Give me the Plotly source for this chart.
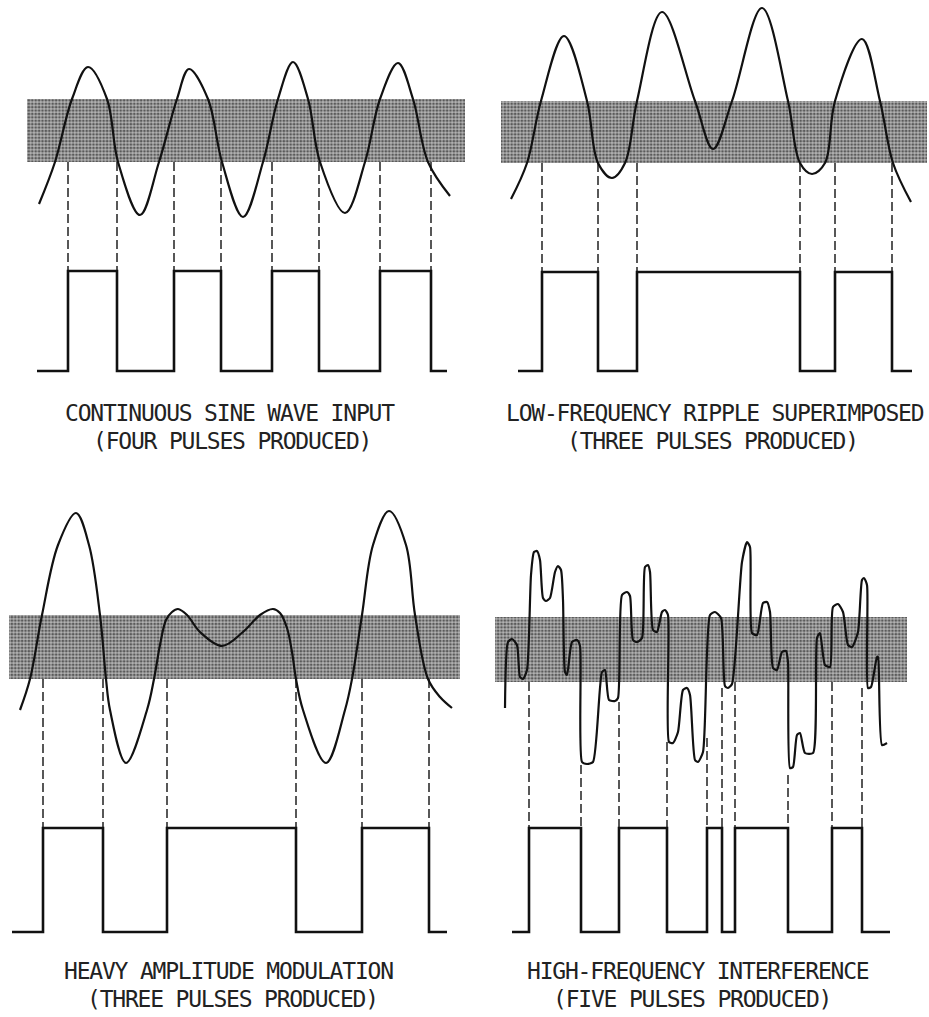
import plotly.graph_objects as go

INK = "#111111"

# ---------------- Panel 1: continuous sine wave ----------------
p1_band_x = [27, 465]
p1_thresholds = [99, 162]          # upper, lower threshold
p1_wave = [(39, 204), (55, 162), (72, 99), (88, 67), (107, 99), (118, 162), (140, 215),
           (159, 162), (177, 99), (189, 69), (208, 99), (222, 162), (243, 217),
           (263, 162), (278, 99), (293, 62), (308, 99), (320, 162), (345, 213),
           (365, 162), (380, 99), (398, 63), (413, 99), (428, 162), (450, 196)]
p1_edges = [68, 117, 174, 221, 272, 319, 380, 431]
p1_pulse_span = [37, 447]
p1_pulse_levels = [371, 271]       # low, high
p1_dash_from = [162] * 8

# ---------------- Panel 2: low-frequency ripple ----------------
p2_band_x = [501, 927]
p2_thresholds = [101, 163]
p2_wave = [(511, 199), (527, 163), (541, 101), (564, 36), (587, 101), (598, 163), (612, 178),
           (625, 163), (637, 101), (662, 12), (695, 101), (713, 149), (732, 101),
           (762, 8), (788, 101), (800, 163), (812, 174), (825, 163), (835, 101),
           (862, 39), (880, 101), (893, 163), (911, 202)]
p2_edges = [542, 598, 637, 800, 835, 892]
p2_pulse_span = [518, 912]
p2_pulse_levels = [371, 272]
p2_dash_from = [163] * 6

# ---------------- Panel 3: heavy amplitude modulation ----------------
p3_band_x = [9, 460]
p3_thresholds = [615, 679]
p3_wave = [(20, 710), (30, 679), (42, 615), (58, 545), (76, 513), (89, 545), (100, 615),
           (106, 679), (110, 710), (126, 763), (147, 710), (154, 679), (160, 645),
           (166, 620), (172, 612), (178, 609), (187, 615), (200, 632), (222, 646),
           (243, 632), (260, 615), (273, 609), (280, 613), (287, 628), (292, 652),
           (296, 679), (303, 710), (326, 763), (345, 710), (352, 679), (362, 615),
           (373, 545), (389, 511), (406, 545), (415, 615), (428, 679), (440, 697), (452, 708)]
p3_edges = [43, 103, 167, 296, 362, 429]
p3_pulse_span = [12, 447]
p3_pulse_levels = [932, 828]
p3_dash_from = [679] * 6

# ---------------- Panel 4: high-frequency interference ----------------
p4_band_x = [495, 907]
p4_thresholds = [617, 682]
p4_wave = [(505, 708), (508, 642), (512, 639), (517, 645), (520, 677), (523, 679), (527, 670),
           (531, 575), (534, 552), (537, 551), (540, 560), (543, 598), (546, 601), (550, 598),
           (555, 572), (558, 566), (561, 570), (563, 600), (565, 672), (567, 675), (572, 642),
           (577, 640), (580, 646), (582, 762), (587, 764), (593, 762), (602, 672), (605, 670),
           (609, 700), (615, 701), (618, 698), (622, 595), (627, 592), (630, 596), (633, 640),
           (637, 642), (642, 638), (645, 567), (648, 565), (650, 572), (653, 630), (657, 632),
           (662, 612), (665, 610), (668, 615), (669, 742), (673, 743), (678, 732), (683, 690),
           (687, 688), (690, 695), (695, 760), (698, 762), (703, 752), (710, 615), (715, 612),
           (721, 618), (725, 686), (728, 688), (732, 684), (742, 562), (747, 542), (750, 547),
           (752, 633), (757, 635), (763, 603), (767, 602), (770, 612), (773, 668), (777, 670),
           (782, 652), (786, 651), (788, 662), (790, 768), (793, 767), (797, 735), (800, 733),
           (805, 753), (813, 753), (817, 638), (820, 633), (825, 665), (830, 667), (833, 607),
           (838, 604), (843, 612), (848, 645), (852, 647), (858, 632), (862, 580), (864, 578),
           (867, 585), (868, 688), (871, 687), (877, 657), (878, 657), (882, 745), (887, 743)]
p4_edges = [529, 581, 619, 667, 707, 722, 735, 788, 832, 862]
p4_pulse_span = [512, 890]
p4_pulse_levels = [932, 828]
p4_dash_from = [682, 765, 702, 742, 738, 688, 682, 775, 682, 688]

# ---------------- Captions ----------------
captions = [
    ("CONTINUOUS SINE WAVE INPUT", 230, 413),
    ("(FOUR PULSES PRODUCED)", 232, 441),
    ("LOW-FREQUENCY RIPPLE SUPERIMPOSED", 715, 413),
    ("(THREE PULSES PRODUCED)", 712, 441),
    ("HEAVY AMPLITUDE MODULATION", 228, 971),
    ("(THREE PULSES PRODUCED)", 232, 999),
    ("HIGH-FREQUENCY INTERFERENCE", 698, 971),
    ("(FIVE PULSES PRODUCED)", 692, 999),
]

fig = go.Figure()


def add_panel(band_x, thr, wave, smoothing, edges, span, levels, dash_from):
    up, lo = thr
    # hysteresis band
    fig.add_trace(go.Scatter(
        x=[band_x[0], band_x[1], band_x[1], band_x[0], band_x[0]],
        y=[up, up, lo, lo, up],
        mode="lines", fill="toself", line=dict(width=0),
        fillcolor="rgba(0,0,0,0)",
        fillpattern=dict(shape=".", fgcolor="#000000", bgcolor="#b4b4b4",
                         size=3.4, solidity=0.5),
        hoverinfo="skip"))
    low, high = levels
    # dashed projection lines
    dx, dy = [], []
    for e, top in zip(edges, dash_from):
        dx += [e, e, None]
        dy += [top, high, None]
    fig.add_trace(go.Scatter(x=dx, y=dy, mode="lines",
                             line=dict(color=INK, width=1.4, dash="9px,4px"),
                             hoverinfo="skip"))
    # input waveform
    fig.add_trace(go.Scatter(x=[p[0] for p in wave], y=[p[1] for p in wave],
                             mode="lines",
                             line=dict(color=INK, width=2.2, shape="spline",
                                       smoothing=smoothing),
                             hoverinfo="skip"))
    # output pulse train
    px, py = [span[0]], [low]
    state = low
    for e in edges:
        nxt = high if state == low else low
        px += [e, e]
        py += [state, nxt]
        state = nxt
    px.append(span[1])
    py.append(low)
    fig.add_trace(go.Scatter(x=px, y=py, mode="lines",
                             line=dict(color=INK, width=2.6),
                             hoverinfo="skip"))


add_panel(p1_band_x, p1_thresholds, p1_wave, 1.0, p1_edges, p1_pulse_span, p1_pulse_levels, p1_dash_from)
add_panel(p2_band_x, p2_thresholds, p2_wave, 1.0, p2_edges, p2_pulse_span, p2_pulse_levels, p2_dash_from)
add_panel(p3_band_x, p3_thresholds, p3_wave, 1.0, p3_edges, p3_pulse_span, p3_pulse_levels, p3_dash_from)
add_panel(p4_band_x, p4_thresholds, p4_wave, 0.6, p4_edges, p4_pulse_span, p4_pulse_levels, p4_dash_from)

for text, cx, cy in captions:
    fig.add_annotation(
        x=cx, y=cy, xref="x", yref="y", showarrow=False,
        text=f"<span style='letter-spacing:-1.2px'>{text}</span>",
        font=dict(family="DejaVu Sans Mono", size=23, color="#222222"),
        xanchor="center", yanchor="middle")

fig.update_layout(
    width=929, height=1017,
    margin=dict(l=0, r=0, t=0, b=0),
    paper_bgcolor="white", plot_bgcolor="white",
    showlegend=False,
    xaxis=dict(range=[0, 929], visible=False, fixedrange=True),
    yaxis=dict(range=[1017, 0], visible=False, fixedrange=True),
)

fig.write_html("out.html", config={"displayModeBar": False},
               post_script="document.body.style.margin='0px';document.body.style.overflow='hidden';")
